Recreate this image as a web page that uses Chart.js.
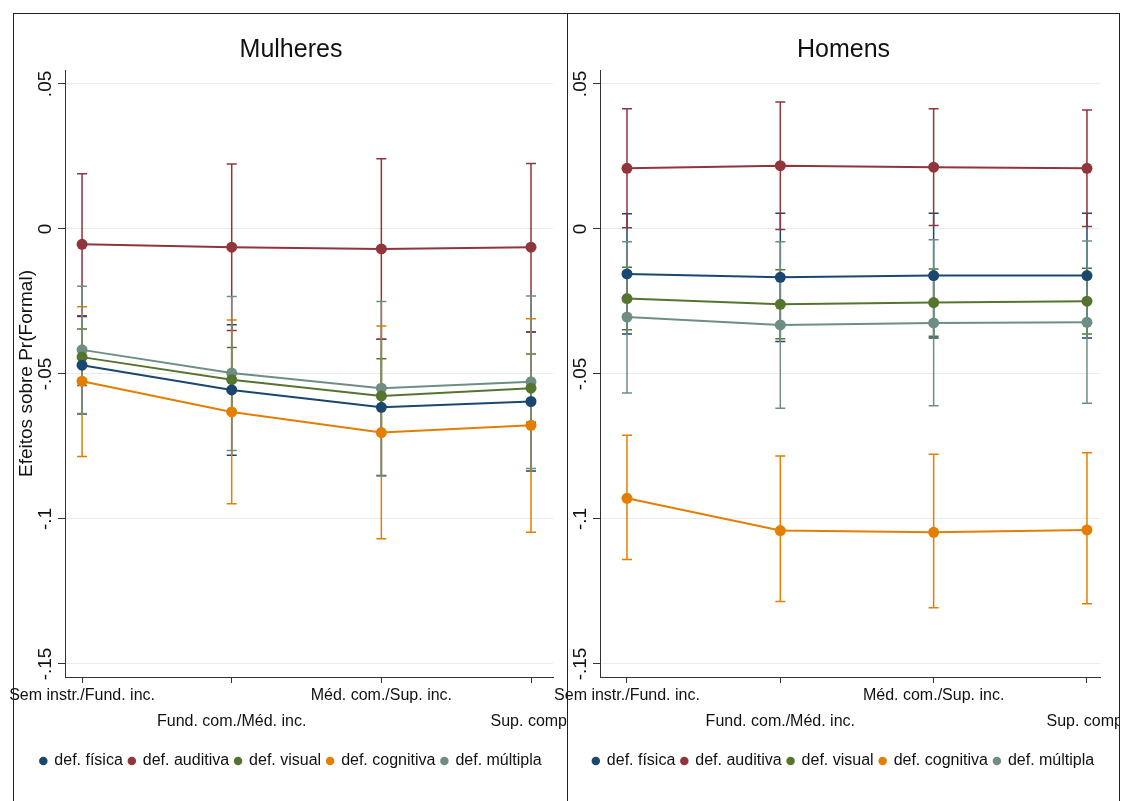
<!DOCTYPE html>
<html lang="pt">
<head>
<meta charset="utf-8">
<title>Efeitos sobre Pr(Formal)</title>
<script src="https://cdn.jsdelivr.net/npm/chart.js@4.4.1/dist/chart.umd.min.js"></script>
<style>
  html, body { margin: 0; padding: 0; background: #fff; }
  #pagina { position: relative; width: 1122px; height: 801px; overflow: hidden; }
  .painel { position: absolute; top: 0; height: 801px; }
  .linha { position: absolute; background: #222; }
</style>
</head>
<body>
<div id="pagina">
  <div class="painel" style="left:0;width:567px"><canvas id="chartMulheres" width="567" height="801"></canvas></div>
  <div class="painel" style="left:553px;width:566px"><canvas id="chartHomens" width="566" height="801"></canvas></div>
  <div class="linha" style="left:13px;top:13px;width:1107px;height:1px"></div>
  <div class="linha" style="left:13px;top:13px;width:1px;height:788px"></div>
  <div class="linha" style="left:567px;top:13px;width:1px;height:788px"></div>
  <div class="linha" style="left:1119px;top:13px;width:1px;height:788px"></div>
</div>
<script>
// Categorias de escolaridade (eixo x)
const categorias = ["Sem instr./Fund. inc.", "Fund. com./Méd. inc.", "Méd. com./Sup. inc.", "Sup. comp."];
const series = ["def. física", "def. auditiva", "def. visual", "def. cognitiva", "def. múltipla"];
const yTicks = [0.05, 0, -0.05, -0.1, -0.15];
const yTickLabels = [".05", "0", "-.05", "-.1", "-.15"];

// Mulheres : efeito estimado, limite inferior e superior do IC
const mulFisica = [-0.0470, -0.0555, -0.0615, -0.0595];
const mulFisicaLo = [-0.0638, -0.0780, -0.0850, -0.0835];
const mulFisicaHi = [-0.0302, -0.0330, -0.0380, -0.0355];
const mulAuditiva = [-0.0053, -0.0063, -0.0069, -0.0063];
const mulAuditivaLo = [-0.0299, -0.0350, -0.0380, -0.0355];
const mulAuditivaHi = [0.0190, 0.0224, 0.0242, 0.0226];
const mulVisual = [-0.0442, -0.0520, -0.0576, -0.0549];
const mulVisualLo = [-0.0540, -0.0630, -0.0704, -0.0667];
const mulVisualHi = [-0.0345, -0.0409, -0.0448, -0.0431];
const mulCognitiva = [-0.0525, -0.0631, -0.0702, -0.0677];
const mulCognitivaLo = [-0.0785, -0.0948, -0.1068, -0.1046];
const mulCognitivaHi = [-0.0268, -0.0314, -0.0335, -0.0310];
const mulMultipla = [-0.0417, -0.0497, -0.0549, -0.0527];
const mulMultiplaLo = [-0.0636, -0.0764, -0.0852, -0.0826];
const mulMultiplaHi = [-0.0198, -0.0233, -0.0250, -0.0231];

// Homens
const homFisica = [-0.0155, -0.0167, -0.0161, -0.0161];
const homFisicaLo = [-0.0362, -0.0388, -0.0376, -0.0376];
const homFisicaHi = [0.0052, 0.0054, 0.0054, 0.0054];
const homAuditiva = [0.0209, 0.0218, 0.0213, 0.0209];
const homAuditivaLo = [0.0004, -0.0002, 0.0012, 0.0008];
const homAuditivaHi = [0.0414, 0.0438, 0.0414, 0.0410];
const homVisual = [-0.0240, -0.0260, -0.0254, -0.0249];
const homVisualLo = [-0.0348, -0.0379, -0.0370, -0.0362];
const homVisualHi = [-0.0132, -0.0141, -0.0138, -0.0136];
const homCognitiva = [-0.0929, -0.1040, -0.1046, -0.1038];
const homCognitivaLo = [-0.1140, -0.1285, -0.1306, -0.1292];
const homCognitivaHi = [-0.0711, -0.0783, -0.0777, -0.0772];
const homMultipla = [-0.0304, -0.0331, -0.0324, -0.0322];
const homMultiplaLo = [-0.0566, -0.0618, -0.0610, -0.0601];
const homMultiplaHi = [-0.0044, -0.0044, -0.0037, -0.0042];

const cores = ["#1a476f", "#90353b", "#55752f", "#e37e00", "#6e8e84"];
const fonte = '"Liberation Sans", Arial, sans-serif';

Chart.defaults.font.family = fonte;
Chart.defaults.color = "#111";

// barras de intervalo de confiança, desenhadas antes das linhas
const barrasErro = {
  id: "barrasErro",
  beforeDatasetsDraw(chart) {
    const { ctx, scales: { x, y } } = chart;
    ctx.save();
    ctx.lineWidth = 1.5;
    chart.data.datasets.forEach(ds => {
      ctx.strokeStyle = ds.borderColor;
      ds.lo.forEach((lo, i) => {
        const px = x.getPixelForValue(i);
        const y1 = y.getPixelForValue(lo);
        const y2 = y.getPixelForValue(ds.hi[i]);
        ctx.beginPath();
        ctx.moveTo(px, y1); ctx.lineTo(px, y2);
        ctx.moveTo(px - 5, y1); ctx.lineTo(px + 5, y1);
        ctx.moveTo(px - 5, y2); ctx.lineTo(px + 5, y2);
        ctx.stroke();
      });
    });
    ctx.restore();
  }
};

// rótulos do eixo y girados (estilo Stata)
const rotulosY = {
  id: "rotulosY",
  afterDraw(chart) {
    const { ctx, scales: { y } } = chart;
    ctx.save();
    ctx.font = "19px " + fonte;
    ctx.fillStyle = "#111";
    ctx.textAlign = "center";
    ctx.textBaseline = "middle";
    yTicks.forEach((v, i) => {
      ctx.save();
      ctx.translate(y.right - 19, y.getPixelForValue(v));
      ctx.rotate(-Math.PI / 2);
      ctx.fillText(yTickLabels[i], 0, 0);
      ctx.restore();
    });
    ctx.restore();
  }
};

function montarDatasets(est, lo, hi) {
  return series.map((nome, k) => ({
    label: nome,
    data: est[k].map((v, i) => ({ x: i, y: v })),
    lo: lo[k],
    hi: hi[k],
    borderColor: cores[k],
    backgroundColor: cores[k],
    pointBackgroundColor: cores[k],
    pointBorderWidth: 0,
    pointRadius: 5.5,
    borderWidth: 2,
    tension: 0
  }));
}

function criarGrafico(id, titulo, datasets, xMin, xMax, largY, largDir, tituloY) {
  return new Chart(document.getElementById(id), {
    type: "line",
    data: { datasets },
    plugins: [barrasErro, rotulosY],
    options: {
      responsive: false,
      animation: false,
      devicePixelRatio: 1,
      layout: { padding: { left: 15, right: 0, top: 0, bottom: 22 } },
      plugins: {
        title: {
          display: true,
          text: titulo,
          color: "#111",
          font: { size: 25, weight: "normal" },
          padding: { top: 35, bottom: 5 }
        },
        legend: {
          position: "bottom",
          labels: {
            usePointStyle: true,
            pointStyle: "circle",
            boxWidth: 6,
            boxHeight: 6,
            padding: 6,
            color: "#111",
            font: { size: 16 }
          }
        },
        tooltip: { enabled: false }
      },
      scales: {
        x: {
          type: "linear",
          min: xMin,
          max: xMax,
          afterBuildTicks: s => { s.ticks = categorias.map((c, i) => ({ value: i })); },
          afterFit: s => { s.height = 70; s.paddingLeft = 0; s.paddingRight = 0; },
          grid: { display: true, drawOnChartArea: false, drawTicks: true, tickLength: 6, tickColor: "#333" },
          border: { display: true, color: "#333", width: 1 },
          ticks: {
            autoSkip: false,
            maxRotation: 0,
            minRotation: 0,
            padding: 0,
            color: "#111",
            font: { size: 16, lineHeight: 1.6 },
            callback: v => (v % 2 === 0 ? [categorias[v], ""] : ["", categorias[v]])
          }
        },
        y: {
          min: -0.1545,
          max: 0.0548,
          afterBuildTicks: s => { s.ticks = yTicks.map(v => ({ value: v })); },
          afterFit: s => { s.width = largY; s.paddingTop = 0; s.paddingBottom = 0; },
          grid: { color: "#ebebeb", drawTicks: true, tickLength: 7, tickColor: "#333" },
          border: { display: true, color: "#333", width: 1 },
          ticks: { display: false },
          title: {
            display: tituloY !== "",
            text: tituloY,
            color: "#111",
            font: { size: 19 },
            padding: { top: 0, bottom: 0 }
          }
        },
        yDir: {
          type: "linear",
          position: "right",
          display: true,
          grid: { display: false },
          border: { display: false },
          ticks: { display: false },
          afterFit: s => { s.width = largDir; }
        }
      }
    }
  });
}

criarGrafico("chartMulheres", "Mulheres",
  montarDatasets(
    [mulFisica, mulAuditiva, mulVisual, mulCognitiva, mulMultipla],
    [mulFisicaLo, mulAuditivaLo, mulVisualLo, mulCognitivaLo, mulMultiplaLo],
    [mulFisicaHi, mulAuditivaHi, mulVisualHi, mulCognitivaHi, mulMultiplaHi]),
  -0.114, 3.147, 50, 14, "Efeitos sobre Pr(Formal)");

criarGrafico("chartHomens", "Homens",
  montarDatasets(
    [homFisica, homAuditiva, homVisual, homCognitiva, homMultipla],
    [homFisicaLo, homAuditivaLo, homVisualLo, homCognitivaLo, homMultiplaLo],
    [homFisicaHi, homAuditivaHi, homVisualHi, homCognitivaHi, homMultiplaHi]),
  -0.176, 3.085, 32, 19, "");
</script>
</body>
</html>
